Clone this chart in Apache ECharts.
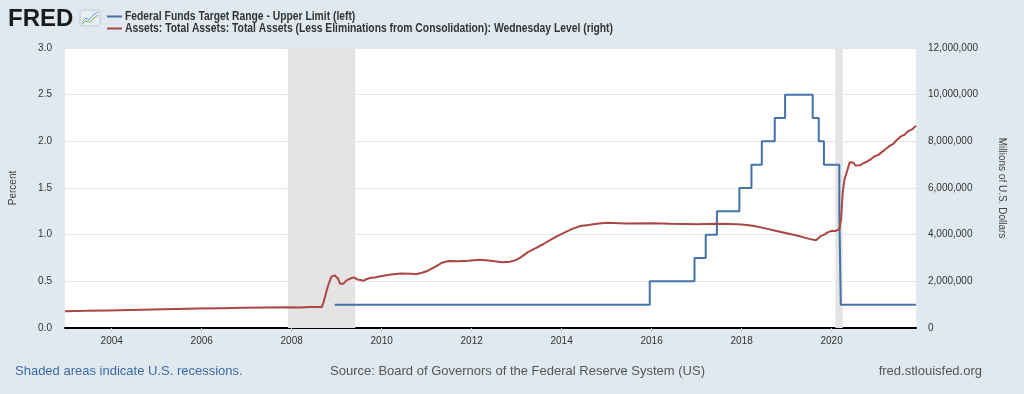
<!DOCTYPE html>
<html>
<head>
<meta charset="utf-8">
<script src="https://cdn.jsdelivr.net/npm/echarts@6/dist/echarts.min.js"></script>
<style>
html,body{margin:0;padding:0;background:#e1e9f0;}
#chart{width:1024px;height:394px;}
</style>
</head>
<body>
<div id="chart"></div>
<script>
// ---- Data ----
const fedName = 'Federal Funds Target Range - Upper Limit (left)';
const assetName = 'Assets: Total Assets: Total Assets (Less Eliminations from Consolidation): Wednesday Level (right)';

const fedDates = ['2008-12-16','2015-12-17','2016-12-15','2017-03-16','2017-06-15','2017-12-14','2018-03-22','2018-06-14','2018-09-27','2018-12-20','2019-08-01','2019-09-19','2019-10-31','2020-03-04','2020-03-16','2021-11-17'];
const fedValues = [0.25,0.5,0.75,1.0,1.25,1.5,1.75,2.0,2.25,2.5,2.25,2.0,1.75,1.25,0.25,0.25];

const assetDates = [
 '2002-12-18','2003-06-04','2003-12-03','2004-06-02','2004-12-01','2005-06-01','2005-12-07','2006-06-07','2006-12-06','2007-06-06','2007-12-05','2008-03-05','2008-06-04','2008-09-03','2008-09-17','2008-09-24','2008-10-08','2008-10-22','2008-11-05','2008-11-19','2008-12-17','2008-12-31','2009-01-14','2009-01-28','2009-02-11','2009-02-25','2009-03-25','2009-04-22','2009-05-20','2009-06-17','2009-07-15','2009-08-05','2009-09-02','2009-10-07','2009-11-04','2009-12-02','2010-01-06','2010-03-03','2010-06-02','2010-09-01','2010-10-06','2010-12-01','2011-01-05','2011-03-02','2011-04-06','2011-05-04','2011-06-29','2011-09-07','2011-12-07','2012-03-07','2012-06-06','2012-09-05','2012-11-07','2012-12-26','2013-02-06','2013-04-03','2013-06-05','2013-08-07','2013-10-02','2013-12-04','2014-02-05','2014-04-02','2014-06-04','2014-08-06','2014-10-29','2015-01-07','2015-06-03','2016-01-06','2016-06-01','2017-01-04','2017-06-07','2017-10-04','2018-01-03','2018-04-04','2018-07-04','2018-10-03','2019-01-02','2019-04-03','2019-07-03','2019-08-28','2019-09-18','2019-10-09','2019-11-06','2019-12-04','2020-01-08','2020-02-05','2020-03-04','2020-03-11','2020-03-18','2020-03-25','2020-04-01','2020-04-15','2020-05-06','2020-05-27','2020-06-10','2020-06-24','2020-07-15','2020-08-19','2020-09-16','2020-10-21','2020-11-18','2020-12-16','2021-01-13','2021-02-17','2021-03-17','2021-04-14','2021-05-19','2021-06-16','2021-07-14','2021-08-18','2021-09-15','2021-10-13','2021-11-17'];
const assetValues = [
 720000,735000,755000,775000,795000,815000,835000,850000,865000,880000,890000,880000,895000,905000,1120000,1250000,1530000,1800000,2000000,2200000,2256000,2240000,2100000,1900000,1850000,1900000,2050000,2120000,2170000,2080000,2060000,2020000,2100000,2150000,2160000,2200000,2230000,2280000,2340000,2320000,2300000,2380000,2440000,2600000,2700000,2800000,2870000,2860000,2880000,2930000,2880000,2820000,2840000,2910000,3040000,3250000,3420000,3600000,3780000,3960000,4120000,4260000,4370000,4410000,4480000,4510000,4480000,4490000,4470000,4450000,4470000,4460000,4440000,4380000,4280000,4170000,4060000,3950000,3820000,3760000,3860000,3950000,4010000,4110000,4170000,4160000,4240000,4310000,4670000,5250000,5820000,6370000,6720000,7100000,7170000,7090000,6960000,6970000,7060000,7150000,7240000,7360000,7410000,7560000,7670000,7790000,7900000,8070000,8200000,8290000,8440000,8500000,8670000];

const recessions = [['2007-12-01','2009-06-01'],['2020-02-01','2020-04-01']];
const xMinDate = '2002-12-18';
const xMaxDate = '2021-11-17';
const leftTicks = {min:0, max:3, interval:0.5};
const rightTicks = {min:0, max:12000000, interval:2000000};

// ---- helpers ----
function toYear(s){
  const d = new Date(s + 'T00:00:00Z');
  const y = d.getUTCFullYear();
  const a = Date.UTC(y,0,1), b = Date.UTC(y+1,0,1);
  return y + (d.getTime()-a)/(b-a);
}
const fedData = fedDates.map((d,i)=>[toYear(d), fedValues[i]]);
const assetData = assetDates.map((d,i)=>[toYear(d), assetValues[i]]);
const recData = recessions.map(r=>[{xAxis:toYear(r[0])},{xAxis:toYear(r[1])}]);

const chart = echarts.init(document.getElementById('chart'), null, {renderer:'canvas'});
const sans = '"Liberation Sans", Arial, sans-serif';
const legendFont = 'bold 12px "Liberation Sans", Arial, sans-serif';

chart.setOption({
  backgroundColor:'#e1e9f0',
  animation:false,
  grid:{left:65, right:108, top:48, bottom:66, show:true, backgroundColor:'#ffffff', borderWidth:0},
  xAxis:{
    type:'value', min:toYear(xMinDate), max:toYear(xMaxDate), splitNumber:9,
    axisLine:{show:true, onZero:false, lineStyle:{color:'#000', width:2}},
    axisTick:{show:true, length:5, lineStyle:{color:'#ccd6eb'}},
    splitLine:{show:false},
    axisLabel:{showMinLabel:false, showMaxLabel:false, fontFamily:sans, fontSize:10, color:'#333', margin:8,
      formatter:v=>String(Math.round(v))}
  },
  yAxis:[
    {type:'value', min:leftTicks.min, max:leftTicks.max, interval:leftTicks.interval, position:'left',
     name:'Percent', nameLocation:'middle', nameGap:47, nameRotate:90,
     nameTextStyle:{fontFamily:sans, fontSize:10, color:'#444'},
     axisLine:{show:false}, axisTick:{show:false},
     splitLine:{lineStyle:{color:'#e6e6e6', width:1}},
     axisLabel:{fontFamily:sans, fontSize:10, color:'#333', margin:13, formatter:v=>v.toFixed(1)}},
    {type:'value', min:rightTicks.min, max:rightTicks.max, interval:rightTicks.interval, position:'right',
     name:'Millions of U.S. Dollars', nameLocation:'middle', nameGap:81, nameRotate:-90,
     nameTextStyle:{fontFamily:sans, fontSize:10, color:'#444'},
     axisLine:{show:false}, axisTick:{show:false}, splitLine:{show:false},
     axisLabel:{fontFamily:sans, fontSize:10, color:'#333', margin:12,
       formatter:v=>v.toLocaleString('en-US')}}
  ],
  series:[
    {name:'recessions', type:'line', data:[], silent:true, z:1,
     markArea:{silent:true, itemStyle:{color:'#e4e4e4'}, data:recData}},
    {name:fedName, type:'line', yAxisIndex:0, step:'end', data:fedData, showSymbol:false, z:3,
     lineStyle:{color:'#4572a7', width:2}, itemStyle:{color:'#4572a7'}},
    {name:assetName, type:'line', yAxisIndex:1, data:assetData, showSymbol:false, z:3,
     lineStyle:{color:'#aa4643', width:2}, itemStyle:{color:'#aa4643'}}
  ],
  graphic:[
    {type:'text', left:8, top:7, style:{text:'FRED', font:'900 24px "Liberation Sans", Arial, sans-serif', fill:'#1a1a1a'}},
    {type:'rect', shape:{x:80, y:10, width:20, height:16, r:2}, style:{fill:'#e8eef3', stroke:'#c3ccd4', lineWidth:1}},
    {type:'polyline', shape:{points:[[82,22],[86,18],[89,20],[93,15],[98,12]]}, style:{stroke:'#6d9bd1', lineWidth:1, fill:null}},
    {type:'polyline', shape:{points:[[82,24],[86,21],[90,22],[94,18],[98,15]]}, style:{stroke:'#7ab648', lineWidth:1, fill:null}},
    // legend
    {type:'line', shape:{x1:107, y1:16.5, x2:122, y2:16.5}, style:{stroke:'#4572a7', lineWidth:2}},
    {type:'line', shape:{x1:107, y1:28.5, x2:122, y2:28.5}, style:{stroke:'#aa4643', lineWidth:2}},
    {type:'text', x:125, y:16.5, scaleX:0.86, style:{text:fedName, font:legendFont, fill:'#333', verticalAlign:'middle'}},
    {type:'text', x:125, y:28.5, scaleX:0.86, style:{text:assetName, font:legendFont, fill:'#333', verticalAlign:'middle'}},
    // footer
    {type:'text', left:15, top:365, style:{text:'Shaded areas indicate U.S. recessions.', font:'13px "Liberation Sans", Arial, sans-serif', fill:'#3a6aa5'}},
    {type:'text', left:330, top:365, style:{text:'Source: Board of Governors of the Federal Reserve System (US)', font:'13px "Liberation Sans", Arial, sans-serif', fill:'#555'}},
    {type:'text', right:42, top:365, style:{text:'fred.stlouisfed.org', font:'13px "Liberation Sans", Arial, sans-serif', fill:'#555'}}
  ]
});
</script>
</body>
</html>
